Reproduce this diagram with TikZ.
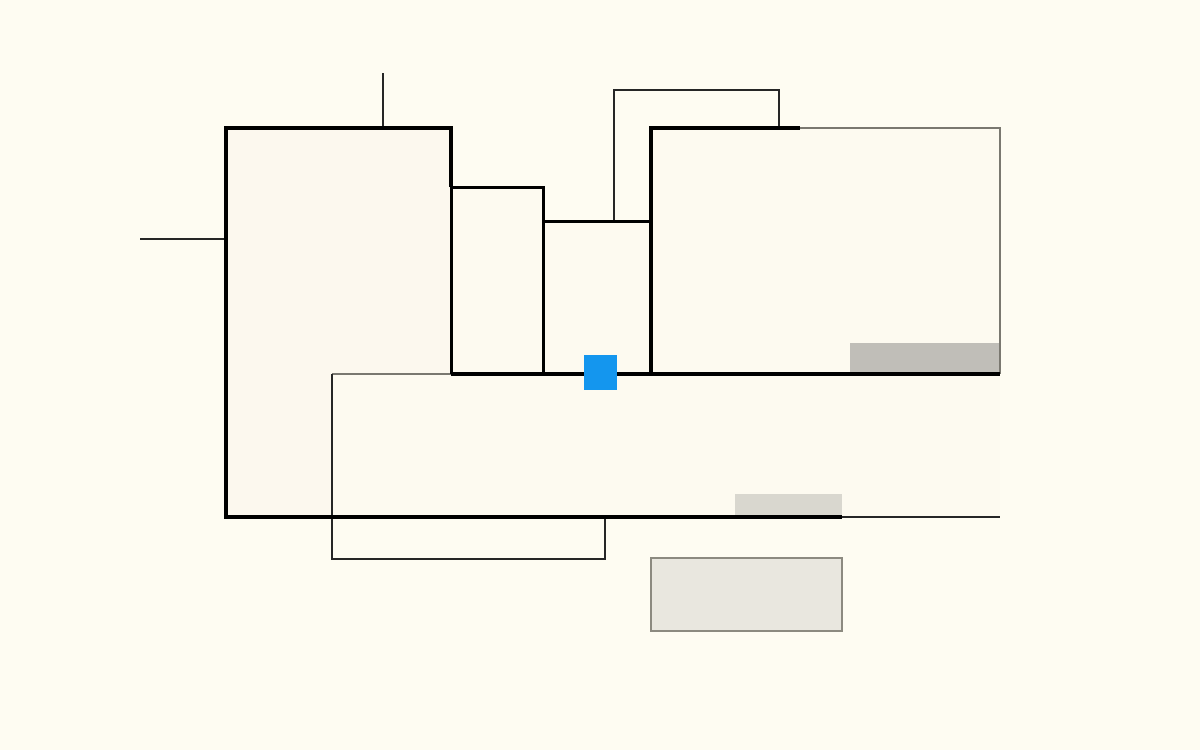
\documentclass[tikz,border=0pt]{standalone}
\usepackage{tikz}
\definecolor{bg}{HTML}{FEFCF2}
\definecolor{panel}{HTML}{FCF8EE}
\definecolor{panelB}{HTML}{FDFAF0}
\definecolor{edgegray}{HTML}{7A7870}
\definecolor{blockdark}{HTML}{C0BEB8}
\definecolor{blockmid}{HTML}{D9D7CF}
\definecolor{blocklight}{HTML}{E9E7DF}
\definecolor{boxgray}{HTML}{8C8A80}
\definecolor{accent}{HTML}{1496EE}
\tikzset{
  heavy/.style={draw=black, line width=3.2pt},
  medium/.style={draw=black, line width=3.0pt},
  light/.style={draw=black!85, line width=2.2pt},
  grayedge/.style={draw=edgegray, line width=2.2pt},
}
\begin{document}
\begin{tikzpicture}[x=1pt,y=-1pt]
\fill[bg] (0,0) rectangle (1200,750);
\useasboundingbox (0,0) rectangle (1200,750);
% big left panel
\fill[panel] (226,128) rectangle (451,517);
% lower wide panel
\fill[panelB] (332,374) rectangle (1000,517);
% right panel
\fill[panelB] (651,128) rectangle (1000,374);
\fill[panelB] (451,187) rectangle (543,374);
\fill[panelB] (543,221) rectangle (651,374);
% shaded blocks
\fill[blockdark] (850,343) rectangle (1000,374);
\fill[blockmid] (735,494) rectangle (842,517);
\filldraw[fill=blocklight, draw=boxgray, line width=2.2pt] (651,558) rectangle (842,631);
% stubs
\draw[light] (383,73) -- (383,128);
\draw[light] (140,239) -- (226,239);
% bracket above
\draw[light] (614,221) -- (614,90) -- (779,90) -- (779,128);
% lower wide panel outline
\draw[grayedge] (332,374) -- (451,374);
\draw[light] (332,374) -- (332,559) -- (605,559) -- (605,517);
\draw[light] (842,517) -- (1000,517);
% big left panel
\draw[heavy] (451,187) -- (451,128) -- (226,128) -- (226,517) -- (842,517);
\draw[medium] (451,187) -- (451,374);
% rect 2 and 3
\draw[medium] (451,187) -- (543,187) -- (543,374);
\draw[medium] (543,221) -- (651,221);
% right panel
\draw[grayedge] (800,128) -- (1000,128) -- (1000,374);
\draw[heavy] (800,128) -- (651,128) -- (651,374);
\draw[heavy] (451,374) -- (1000,374);
% accent square
\fill[accent] (584,355) rectangle (617,390);
\end{tikzpicture}
\end{document}
